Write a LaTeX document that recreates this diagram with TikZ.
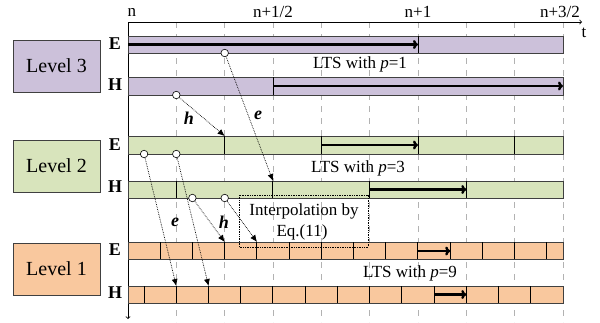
\documentclass[tikz,border=0pt]{standalone}
\usepackage{fontspec}
\setmainfont{Liberation Serif}
\usepackage{tikz}
\usetikzlibrary{arrows,arrows.meta,shapes}

\definecolor{lvlthree}{HTML}{CCC1DA}
\definecolor{lvltwo}{HTML}{D8E4BC}
\definecolor{lvlone}{HTML}{F9C89E}
\definecolor{edge}{HTML}{404040}

\begin{document}
\begin{tikzpicture}[x=1pt,y=-1pt,
        grid/.style={gray!60,dash pattern=on 6pt off 6pt,line width=0.8pt},
        bar/.style={draw=edge,line width=0.9pt},
        cut/.style={black,line width=1pt},
        lts/.style={-{To[length=5pt,width=9pt]},line width=2.4pt},
        pass/.style={densely dotted,-{Latex[length=7pt,width=6pt]},line width=0.7pt},
        src/.style={circle,draw,fill=white,inner sep=0pt,minimum size=7.5pt,line width=0.6pt},
        lvl/.style={draw=edge,line width=0.9pt,minimum width=87pt,minimum height=52pt,font=\fontsize{20}{24}\selectfont},
        fld/.style={font=\bfseries\fontsize{18}{20}\selectfont},
        txt/.style={font=\fontsize{17}{20}\selectfont},
        lab/.style={font=\bfseries\itshape\fontsize{18}{20}\selectfont}]
        \useasboundingbox (0,0) rectangle (600,322);
        % time grid
        \foreach \k in {1,...,9}
            \draw[grid] ({128+48.33*\k},22) -- ({128+48.33*\k},322);
        \draw[-to,line width=0.8pt] (128,22) -- (582,22);
        \draw[-to,line width=0.8pt] (128,22) -- (128,319);
        \node[txt,anchor=west] (tn) at (124,12) {n};
        \node[txt] (thalf) at (273,12) {n+1/2};
        \node[txt] (tone) at (418,12) {n+1};
        \node[txt] (tthree) at (560,12) {n+3/2};
        \node[txt] (tt) at (584,33) {t};

        % level 3
        \node[lvl,fill=lvlthree] (L3) at (56.5,66) {Level 3};
        \draw[bar,fill=lvlthree] (128,36) rectangle (563,53);
        \draw[bar,fill=lvlthree] (128,77) rectangle (563,95);
        \draw[cut] (418,36) -- ++(0,17);
        \draw[cut] (273,77) -- ++(0,18);
        \draw[lts] (128,44.5) -- (418,44.5);
        \draw[lts] (273,86) -- (563,86);
        \node[fld] (E3) at (115,44) {E};
        \node[fld] (H3) at (115,85) {H};
        \node[txt] (p1) at (360,64) {LTS with \textit{p}=1};

        % level 2
        \node[lvl,fill=lvltwo] (L2) at (56.5,166) {Level 2};
        \draw[bar,fill=lvltwo] (128,136) rectangle (563,154);
        \draw[bar,fill=lvltwo] (128,181) rectangle (563,198);
        \foreach \k in {1,...,4}
            \draw[cut] ({128+96.67*\k},136) -- ++(0,18);
        \foreach \k in {0,...,3}
            \draw[cut] ({176.3+96.67*\k},181) -- ++(0,17);
        \draw[lts] (321.3,145) -- (418,145);
        \draw[lts] (369.7,189.5) -- (466.3,189.5);
        \node[fld] (E2) at (115,145) {E};
        \node[fld] (H2) at (115,187) {H};
        \node[txt] (p3) at (358,168) {LTS with \textit{p}=3};

        % level 1
        \node[lvl,fill=lvlone] (L1) at (56.5,269) {Level 1};
        \draw[bar,fill=lvlone] (128,242) rectangle (563,259);
        \draw[bar,fill=lvlone] (128,286) rectangle (563,303);
        \foreach \k in {1,...,13}
            \draw[cut] ({128+32.22*\k},242) -- ++(0,17);
        \foreach \k in {0,...,12}
            \draw[cut] ({144.1+32.22*\k},286) -- ++(0,17);
        \draw[lts] (418,251) -- (450.2,251);
        \draw[lts] (434.1,294.5) -- (466.3,294.5);
        \node[fld] (E1) at (115,250) {E};
        \node[fld] (H1) at (115,293) {H};
        \node[txt] (p9) at (410,273) {LTS with \textit{p}=9};

        % interpolation
        \draw[densely dotted,line width=0.7pt] (239,195) rectangle (368,247);
        \node[txt] (ip1) at (304,211) {Interpolation by};
        \node[txt] (ip2) at (302,232) {Eq.(11)};

        % passing between levels
        \node[src] (s1) at (224.7,53) {};
        \node[src] (s2) at (176.3,95) {};
        \node[src] (s3) at (144.1,154) {};
        \node[src] (s4) at (176.3,154) {};
        \node[src] (s5) at (192.4,198) {};
        \node[src] (s6) at (224.7,198) {};
        \coordinate (d1) at (273,181);
        \coordinate (d2) at (224.7,136);
        \coordinate (d3) at (176.3,286);
        \coordinate (d4) at (208.6,286);
        \coordinate (d5) at (224.7,242);
        \coordinate (d6) at (257,242);
        \draw[pass] (s1) -- (d1);
        \draw[pass] (s2) -- (d2);
        \draw[pass] (s3) -- (d3);
        \draw[pass] (s4) -- (d4);
        \draw[pass] (s5) -- (d5);
        \draw[pass] (s6) -- (d6);
        \node[lab] (e1) at (258,115) {e};
        \node[lab] (h1) at (189,118) {h};
        \node[lab] (e2) at (175,222) {e};
        \node[lab] (h2) at (224,222) {h};
    \end{tikzpicture}
\end{document}
